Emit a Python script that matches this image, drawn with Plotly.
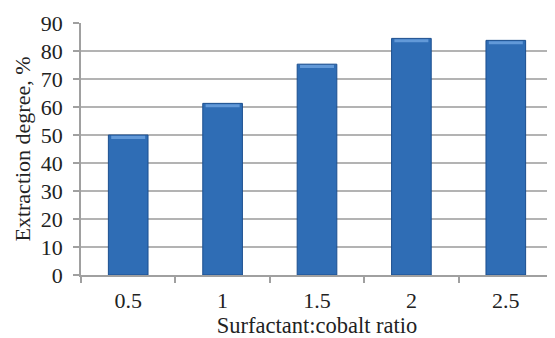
import plotly.graph_objects as go

categories = ["0.5", "1", "1.5", "2", "2.5"]
values = [50.0, 61.3, 75.3, 84.5, 83.8]
y_ticks = [0, 10, 20, 30, 40, 50, 60, 70, 80, 90]

xpos = list(range(len(categories)))
bevel = 1.1

fig = go.Figure()
fig.add_trace(go.Bar(
    x=xpos, y=values, width=0.42,
    marker=dict(color="#2f6db5", line=dict(color="#1c4f8f", width=1)),
    hoverinfo="y",
))
fig.add_trace(go.Bar(
    x=xpos, y=[bevel] * len(values), base=[v - bevel - 0.3 for v in values],
    width=0.36, marker=dict(color="#6299d8", line=dict(width=0)),
    hoverinfo="skip",
))

font = "Liberation Serif, Times New Roman, serif"
fig.update_layout(
    width=547, height=330,
    margin=dict(l=73, r=2, t=15, b=63),
    paper_bgcolor="white", plot_bgcolor="white",
    showlegend=False, barmode="overlay",
    font=dict(family=font, color="#222222", size=22),
    xaxis=dict(
        range=[-0.5, 4.5], automargin=False,
        tickmode="array", tickvals=xpos, ticktext=categories,
        ticks="", showgrid=False, zeroline=False,
        showline=True, linecolor="#a0a0a0", linewidth=1.5,
        tickfont=dict(size=22), ticklabelstandoff=5,
        title=dict(text="Surfactant:cobalt ratio", font=dict(size=22.5), standoff=9),
        minor=dict(tickmode="array", tickvals=[-0.5, 0.5, 1.5, 2.5, 3.5, 4.5],
                   ticks="outside", ticklen=6, tickcolor="#a0a0a0", tickwidth=1.5,
                   showgrid=False),
    ),
    yaxis=dict(
        range=[0, 90], automargin=False,
        tickmode="array", tickvals=y_ticks,
        ticks="outside", ticklen=6, tickcolor="#a0a0a0", tickwidth=1.5,
        showgrid=True, gridcolor="#b3b3b3", gridwidth=1.5,
        zeroline=False,
        showline=True, linecolor="#a0a0a0", linewidth=1.5,
        tickfont=dict(size=22), ticklabelstandoff=6,
        title=dict(text="Extraction degree, %", font=dict(size=22), standoff=4),
    ),
)

fig.write_html("out.html")
